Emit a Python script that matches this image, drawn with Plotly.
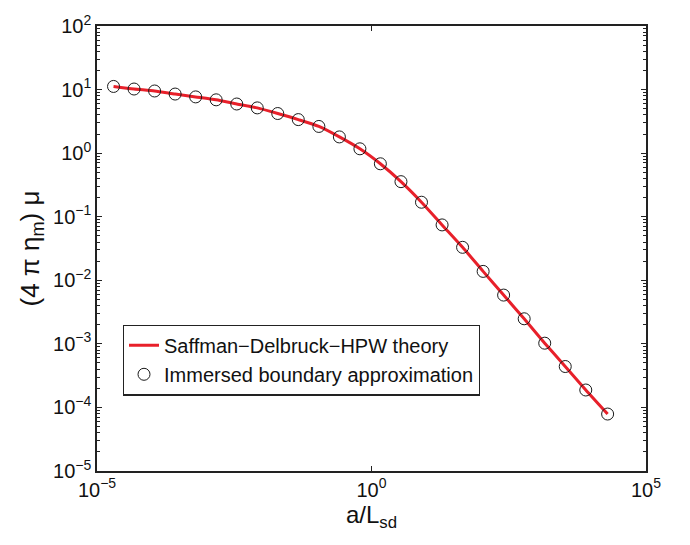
import plotly.graph_objects as go

# a/L_sd sample points (log-spaced)
x_vals = [2.00e-5, 4.73e-5, 1.12e-4, 2.65e-4, 6.27e-4, 1.48e-3, 3.51e-3, 8.30e-3,
          1.96e-2, 4.64e-2, 0.110, 0.260, 0.615, 1.45, 3.44, 8.14,
          19.3, 45.6, 108.0, 255.0, 604.0, 1430.0, 3380.0, 8000.0, 20000.0]
# (4 pi eta_m) mu values
mu_theory = [11.2, 10.2, 9.5, 8.5, 7.67, 6.9, 5.93, 5.15, 4.2, 3.37, 2.63, 1.80,
             1.17, 0.68, 0.356, 0.169, 0.0743, 0.033, 0.0138, 0.00585, 0.00248,
             0.001025, 0.00044, 0.000188, 7.87e-5]
mu_ib = [11.2, 10.2, 9.5, 8.5, 7.67, 6.9, 5.93, 5.15, 4.2, 3.37, 2.63, 1.80,
         1.17, 0.68, 0.356, 0.169, 0.0743, 0.033, 0.0138, 0.00585, 0.00248,
         0.001025, 0.00044, 0.000188, 7.87e-5]

x_tickvals = [1e-5, 1e0, 1e5]
x_ticktext = ["10<sup>−5</sup>", "10<sup>0</sup>", "10<sup>5</sup>"]
y_tickvals = [1e-5, 1e-4, 1e-3, 1e-2, 1e-1, 1e0, 1e1, 1e2]
y_ticktext = ["10<sup>−5</sup>", "10<sup>−4</sup>", "10<sup>−3</sup>", "10<sup>−2</sup>",
              "10<sup>−1</sup>", "10<sup>0</sup>", "10<sup>1</sup>", "10<sup>2</sup>"]
y_minor = [m * 10.0 ** e for e in range(-5, 2) for m in range(2, 10)]

font = "Liberation Sans, Arial, Helvetica, sans-serif"

fig = go.Figure()
fig.add_trace(go.Scatter(
    x=x_vals, y=mu_theory, mode="lines", name="Saffman−Delbruck−HPW theory",
    line=dict(color="#e8202a", width=3, shape="spline", smoothing=0.6),
))
fig.add_trace(go.Scatter(
    x=x_vals, y=mu_ib, mode="markers", name="Immersed boundary approximation",
    marker=dict(symbol="circle-open", size=12, color="#1a1a1a", line=dict(width=1)),
))

axis_common = dict(
    type="log", showgrid=False, zeroline=False, showline=True, linecolor="#222",
    linewidth=1.5, mirror="ticks", ticks="inside", tickcolor="#222", ticklen=5,
    tickwidth=1, tickfont=dict(family=font, size=20, color="#111"),
    ticklabeloverflow="allow",
)

fig.update_xaxes(
    **axis_common, range=[-5, 5], tickmode="array", tickvals=x_tickvals,
    ticktext=x_ticktext,
    title=dict(text="a/L<sub>sd</sub>", font=dict(family=font, size=24, color="#111"),
               standoff=4),
)
fig.update_yaxes(
    **axis_common, range=[-5, 2], tickmode="array", tickvals=y_tickvals,
    ticktext=y_ticktext,
    minor=dict(ticks="inside", ticklen=3, tickcolor="#222", tickmode="array",
               tickvals=y_minor),
    title=dict(text="(4 π η<sub>m</sub>) μ", font=dict(family=font, size=26, color="#111"),
               standoff=6),
)

fig.update_layout(
    width=690, height=545,
    margin=dict(l=97, r=44, t=14, b=74),
    paper_bgcolor="white", plot_bgcolor="white",
    showlegend=True,
    legend=dict(
        x=0.047, y=0.329, xanchor="left", yanchor="top",
        bgcolor="white", bordercolor="#222", borderwidth=1.2,
        font=dict(family=font, size=20, color="#111"),
        itemwidth=30, tracegroupgap=0,
    ),
)

fig.write_html("out.html")
